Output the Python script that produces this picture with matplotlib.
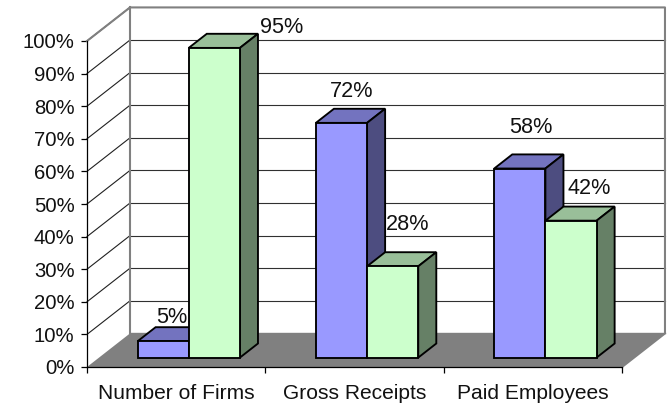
import matplotlib
matplotlib.use('Agg')
import matplotlib.pyplot as plt
from matplotlib.patches import Polygon

plt.rcParams['font.family'] = ['Liberation Sans', 'DejaVu Sans']

categories = ['Number of Firms', 'Gross Receipts', 'Paid Employees']
blue_values = [5, 72, 58]
green_values = [95, 28, 42]
y_ticks = list(range(0, 101, 10))

# label offsets from the front top of each bar's centre, in pixels
blue_offsets = [(9, 24), (10, 31), (11, 41)]
green_offsets = [(67, 20), (15, 42), (18, 32)]

BLUE = ('#9999FF', '#7373BF', '#4D4D80')
GREEN = ('#CCFFCC', '#99BF99', '#668066')
GRAY = '#808080'

# depth of the 3d box in data units
DX = 0.241
DY = 10.3
BAR_WIDTH = 0.287
BAR_SHIFT = 0.003
BAR_FRONT = 0.28
BAR_BACK = 0.70
PX = 72 / 100  # points per pixel


def project(x, y, depth):
    return x + depth * DX, y + depth * DY


def draw_box(ax, left, value, colors):
    right = left + BAR_WIDTH
    corners = lambda depth: [project(left, 0, depth), project(right, 0, depth),
                             project(right, value, depth), project(left, value, depth)]
    front = corners(BAR_FRONT)
    back = corners(BAR_BACK)
    faces = [
        ([front[3], front[2], back[2], back[3]], colors[1]),
        ([front[1], back[1], back[2], front[2]], colors[2]),
        (front, colors[0]),
    ]
    for pts, color in faces:
        ax.add_patch(Polygon(pts, closed=True, facecolor=color, edgecolor='black',
                             lw=1.35, joinstyle='miter', clip_on=False, zorder=4))


fig = plt.figure(figsize=(6.69, 4.05), dpi=100)
ax = fig.add_axes([87 / 669, 38 / 405, 535 / 669, 326 / 405])
ax.set_xlim(-0.5, 2.5)
ax.set_ylim(0, 100)
ax.patch.set_visible(False)

x0, x1 = ax.get_xlim()

# floor
ax.add_patch(Polygon([project(x0, 0, 0), project(x1, 0, 0), project(x1, 0, 1), project(x0, 0, 1)],
                     closed=True, facecolor=GRAY, edgecolor='none', clip_on=False, zorder=1))

# gridlines on the side wall and back wall
for t in y_ticks[1:]:
    if t < 100:
        ax.plot(*zip(project(x0, t, 1), project(x1, t, 1)), color='#303030', lw=0.8, clip_on=False, zorder=2)
    ax.plot(*zip(project(x0, t, 0), project(x0, t, 1)), color='#202020', lw=0.8, clip_on=False, zorder=2)
for t in y_ticks[:1]:
    ax.plot(*zip(project(x0, t, 1), project(x1, t, 1)), color=GRAY, lw=1, clip_on=False, zorder=2)

# wall outline
outline = [project(x0, 100, 0), project(x0, 100, 1), project(x1, 100, 1), project(x1, 0, 1), project(x1, 0, 0)]
ax.plot(*zip(*outline), color=GRAY, lw=1.5, clip_on=False, zorder=2)
ax.plot(*zip(project(x0, 0, 1), project(x0, 100, 1)), color=GRAY, lw=1.5, clip_on=False, zorder=2)

# bars
for i in range(len(categories)):
    left_blue = i - BAR_WIDTH + BAR_SHIFT
    left_green = i + BAR_SHIFT
    draw_box(ax, left_blue, blue_values[i], BLUE)
    draw_box(ax, left_green, green_values[i], GREEN)
    for left, value, off in [(left_blue, blue_values[i], blue_offsets[i]),
                             (left_green, green_values[i], green_offsets[i])]:
        xy = project(left + BAR_WIDTH / 2, value, BAR_FRONT)
        ax.annotate('%d%%' % value, xy=xy, xytext=(off[0] * PX, off[1] * PX),
                    textcoords='offset points', ha='center', va='center',
                    fontsize=15.6, color='#111111', annotation_clip=False, zorder=6)

# axes
for side in ['top', 'right']:
    ax.spines[side].set_visible(False)
for side in ['left', 'bottom']:
    ax.spines[side].set_linewidth(0.9)
    ax.spines[side].set_zorder(3)
ax.set_yticks(y_ticks)
ax.set_yticklabels(['%d%%' % t for t in y_ticks], fontsize=14.6, color='#111111')
ax.set_xticks([-0.5, 0.5, 1.5, 2.5])
ax.set_xticklabels([])
ax.set_xticks([0, 1, 2], minor=True)
ax.set_xticklabels(categories, minor=True, fontsize=15.1, color='#111111')
ax.tick_params(axis='y', length=4, width=0.9, pad=5)
ax.tick_params(axis='x', which='major', length=4.5, width=0.9)
ax.tick_params(axis='x', which='minor', length=0, pad=12.5)

fig.savefig('out.png', dpi=100)
